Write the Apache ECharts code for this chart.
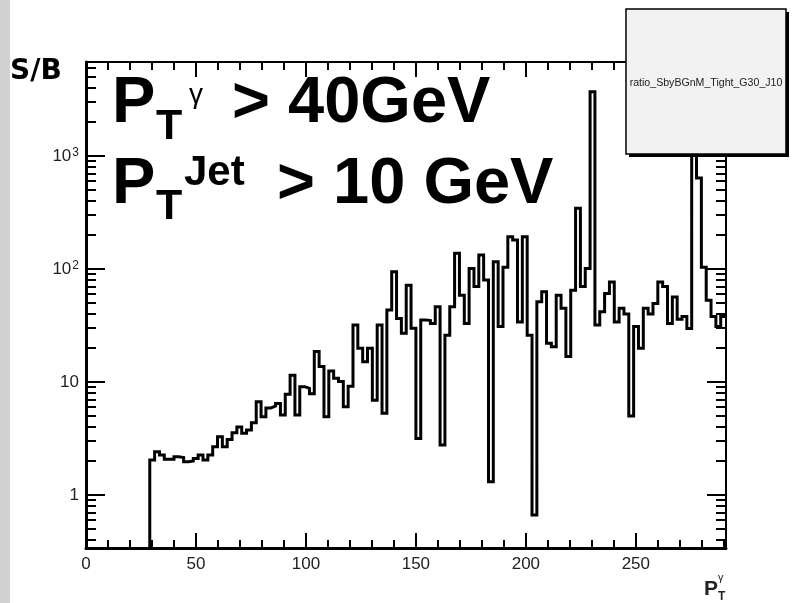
<!DOCTYPE html>
<html>
<head>
<meta charset="utf-8">
<script src="https://cdn.jsdelivr.net/npm/echarts@6.0.0/dist/echarts.min.js"></script>
<style>
html, body { margin: 0; padding: 0; background: #fff; }
#main { width: 800px; height: 603px; }
</style>
</head>
<body>
<div id="main"></div>
<script>
// histogram: S/B ratio vs photon pT, bins
var binStart = 29;
var binWidth = 2.2;
var sbValues = [
	2.04, 2.42, 2.26, 2.07, 2.07, 2.18, 2.15, 1.97, 2.0, 2.11,
	2.26, 2.04, 2.26, 2.68, 3.28, 2.68, 3.1, 3.56, 4.0, 3.52,
	3.76, 4.36, 6.7, 4.94, 5.9, 6.13, 6.47, 5.1, 7.8, 11.5,
	5.1, 9.1, 8.8, 7.9, 18.6, 13.7, 4.94, 12.5, 10.8, 10.1,
	6.04, 9.2, 32, 19.9, 15.1, 19.9, 6.9, 32, 5.3, 43.4,
	94.5, 36.6, 27, 72, 30, 3.17, 35.5, 35, 33, 46.4,
	2.77, 26, 46.4, 138, 58.8, 33, 101, 70, 133, 80,
	1.31, 116, 31, 104, 193, 181, 34, 193, 26, 0.665,
	51.5, 63, 22, 20.5, 58.8, 45, 16.8, 65, 345, 70,
	101, 3700, 32, 42, 60.7, 77, 34, 45, 40, 5.0,
	31, 19.9, 45, 40, 49.6, 77, 70, 33, 56.6, 36,
	38, 29.8, 3000, 640, 104, 53, 38, 31, 38
];
var xMin = 0, xMax = 291;
var yMin = 0.34, yMax = 6800;
var xTickMajor = [0, 50, 100, 150, 200, 250];
var xTickMinor = [10, 20, 30, 40, 60, 70, 80, 90, 110, 120, 130, 140, 160, 170, 180, 190, 210, 220, 230, 240, 260, 270, 280, 290];
var yTickMajor = [1, 10, 100, 1000];
var yTickMinor = [0.4, 0.5, 0.6, 0.7, 0.8, 0.9, 2, 3, 4, 5, 6, 7, 8, 9, 20, 30, 40, 50, 60, 70, 80, 90,
	200, 300, 400, 500, 600, 700, 800, 900, 2000, 3000, 4000, 5000, 6000];
var histName = 'ratio_SbyBGnM_Tight_G30_J10';

// step outline of the histogram
var stepPts = [[binStart, yMin]];
for (var i = 0; i < sbValues.length; i++) {
	var x0 = binStart + i * binWidth;
	stepPts.push([x0, sbValues[i]]);
	stepPts.push([x0 + binWidth, sbValues[i]]);
}

var labelFont = 'Liberation Sans';
var textFont = 'Liberation Sans';
var gridBox = { left: 86, top: 62, right: 74, bottom: 55, containLabel: false };

// one grid holds the major ticks, the other (same box) the minor ones
function xAxisDef(grid, pos, ticks, len, major) {
	return {
		type: 'value', gridIndex: grid, position: pos, min: xMin, max: xMax,
		axisLine: { show: major, onZero: false, lineStyle: { color: '#000', width: pos == 'bottom' ? 3 : 2 } },
		axisTick: { show: true, inside: true, length: len, customValues: ticks, lineStyle: { color: '#000', width: 2 } },
		axisLabel: { show: major && pos == 'bottom', customValues: ticks, margin: 8, color: '#222', fontFamily: labelFont, fontSize: 17 },
		splitLine: { show: false }
	};
}
function yAxisDef(grid, pos, ticks, len, major) {
	return {
		type: 'log', logBase: 10, gridIndex: grid, position: pos, min: yMin, max: yMax,
		axisLine: { show: major, onZero: false, lineStyle: { color: '#000', width: pos == 'left' ? 3 : 2 } },
		axisTick: { show: true, inside: true, length: len, customValues: ticks, lineStyle: { color: '#000', width: 2 } },
		axisLabel: {
			show: major && pos == 'left', customValues: ticks, margin: 7, color: '#222',
			fontFamily: labelFont, fontSize: 17,
			formatter: function (v) {
				if (v < 50) return '{b|' + Math.round(v) + '}';
				return '{b|10}{s|' + Math.round(Math.log10(v)) + '}';
			},
			rich: {
				b: { fontFamily: labelFont, fontSize: 17, color: '#222' },
				s: { fontFamily: labelFont, fontSize: 12, color: '#222', verticalAlign: 'top', padding: [0, 0, 6, 1] }
			}
		},
		splitLine: { show: false }
	};
}

var chart = echarts.init(document.getElementById('main'));
chart.setOption({
	animation: false,
	backgroundColor: '#fff',
	grid: [gridBox, gridBox],
	xAxis: [
		xAxisDef(0, 'bottom', xTickMajor, 15, true),
		xAxisDef(0, 'top', xTickMajor, 15, true),
		xAxisDef(1, 'bottom', xTickMinor, 8, false),
		xAxisDef(1, 'top', xTickMinor, 8, false)
	],
	yAxis: [
		yAxisDef(0, 'left', yTickMajor, 19, true),
		yAxisDef(0, 'right', yTickMajor, 19, true),
		yAxisDef(1, 'left', yTickMinor, 10, false),
		yAxisDef(1, 'right', yTickMinor, 10, false)
	],
	series: [{
		type: 'line',
		xAxisIndex: 0, yAxisIndex: 0,
		data: stepPts,
		showSymbol: false,
		clip: true,
		lineStyle: { color: '#000', width: 3, join: 'miter' }
	}],
	graphic: [
		// textured strip on the left edge
		{ type: 'rect', z: 1, shape: { x: 0, y: 0, width: 10, height: 603 }, style: { fill: '#d2d2d2' } },
		// stats box
		{ type: 'rect', z: 100, shape: { x: 629, y: 12, width: 160, height: 145 }, style: { fill: '#000' } },
		{ type: 'rect', z: 101, shape: { x: 626, y: 9, width: 160, height: 145 }, style: { fill: '#f2f2f2', stroke: '#000', lineWidth: 1.5 } },
		{ type: 'text', z: 102, style: { x: 706, y: 83, text: histName, font: '10.6px ' + textFont, fill: '#222', textAlign: 'center', textVerticalAlign: 'middle' } },
		// y title
		{ type: 'text', z: 102, style: { x: 10, y: 72, text: 'S/B', font: 'bold 28px "DejaVu Sans"', fill: '#000', textVerticalAlign: 'middle' } },
		// cut labels
		{ type: 'text', z: 102, style: { x: 112, y: 104, text: 'P', font: 'bold 65px ' + textFont, fill: '#000', textVerticalAlign: 'middle' } },
		{ type: 'text', z: 102, style: { x: 156, y: 127, text: 'T', font: 'bold 43px ' + textFont, fill: '#000', textVerticalAlign: 'middle' } },
		{ type: 'text', z: 102, style: { x: 189, y: 95, text: 'γ', font: '28px ' + textFont, fill: '#000', textVerticalAlign: 'middle' } },
		{ type: 'text', z: 102, style: { x: 232, y: 104, text: '> 40GeV', font: 'bold 65px ' + textFont, fill: '#000', textVerticalAlign: 'middle' } },
		{ type: 'text', z: 102, style: { x: 112, y: 185, text: 'P', font: 'bold 65px ' + textFont, fill: '#000', textVerticalAlign: 'middle' } },
		{ type: 'text', z: 102, style: { x: 156, y: 207, text: 'T', font: 'bold 43px ' + textFont, fill: '#000', textVerticalAlign: 'middle' } },
		{ type: 'text', z: 102, style: { x: 184, y: 173, text: 'Jet', font: 'bold 42px ' + textFont, fill: '#000', textVerticalAlign: 'middle' } },
		{ type: 'text', z: 102, style: { x: 277, y: 185, text: '> 10 GeV', font: 'bold 65px ' + textFont, fill: '#000', textVerticalAlign: 'middle' } },
		// x title
		{ type: 'text', z: 102, style: { x: 704, y: 589, text: 'P', font: 'bold 21px ' + textFont, fill: '#222', textVerticalAlign: 'middle' } },
		{ type: 'text', z: 102, style: { x: 718, y: 597, text: 'T', font: 'bold 12px ' + textFont, fill: '#222', textVerticalAlign: 'middle' } },
		{ type: 'text', z: 102, style: { x: 718, y: 578, text: 'γ', font: '11px ' + textFont, fill: '#222', textVerticalAlign: 'middle' } }
	]
});
</script>
</body>
</html>
